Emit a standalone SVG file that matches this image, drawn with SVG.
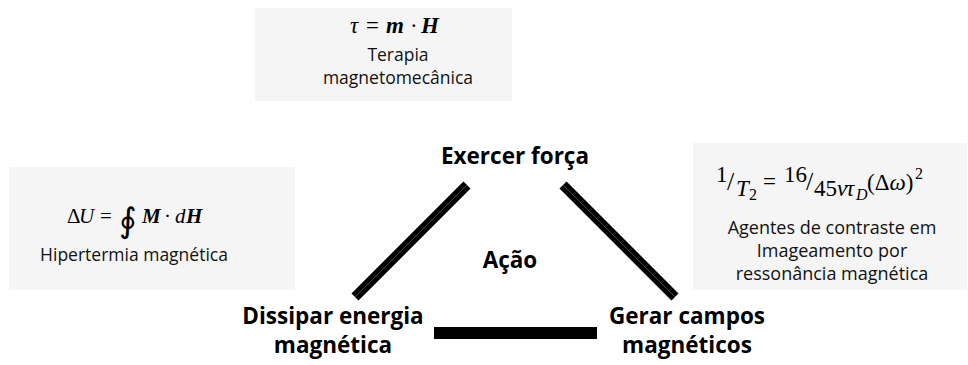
<svg xmlns="http://www.w3.org/2000/svg" width="968" height="365" viewBox="0 0 968 365">
<style>
.box{fill:#f5f5f5}
.lbl{font-family:"Open Sans","Liberation Sans",sans-serif;font-weight:bold;font-size:22.5px;fill:#000;text-anchor:middle}
.cap{font-family:"Open Sans","Liberation Sans",sans-serif;font-size:17.5px;fill:#111;text-anchor:middle}
.math{font-family:"Liberation Serif","DejaVu Serif",serif;font-size:22px;fill:#000}
.it{font-style:italic}
.bi{font-style:italic;font-weight:bold}
.sub{font-size:16px}
.bar{stroke:#000;stroke-width:10;stroke-linecap:butt;fill:none}
.barIn{stroke:#555;stroke-width:0.8;fill:none}
</style>
<g id="app-torque">
<rect class="box" x="255" y="8" width="257" height="93"/>
<text class="math" y="33" style="font-size:23px"><tspan x="350" class="it">τ</tspan><tspan x="366">=</tspan><tspan x="386" class="bi">m</tspan><tspan x="410">·</tspan><tspan x="421" class="bi">H</tspan></text>
<text class="cap" x="398" y="61">Terapia</text>
<text class="cap" x="398" y="84">magnetomecânica</text>
</g>
<g id="app-hyperthermia">
<rect class="box" x="9" y="167" width="286" height="123"/>
<text class="math" y="223" style="font-size:21px"><tspan x="67">Δ</tspan><tspan x="79" class="it">U</tspan><tspan x="100">=</tspan><tspan x="119" y="232" style="font-family:'DejaVu Serif',serif;font-size:34px">∮</tspan><tspan x="142" y="223" class="bi">M</tspan><tspan x="164">·</tspan><tspan x="175" class="it">d</tspan><tspan x="186" class="bi">H</tspan></text>
<text class="cap" x="134" y="261">Hipertermia magnética</text>
</g>
<g id="app-mri">
<rect class="box" x="693" y="143" width="274" height="147"/>
<text class="math" style="font-size:23px"><tspan x="716" y="182">1</tspan><tspan x="727" y="190" style="font-size:26px">/</tspan><tspan x="736" y="196" class="it">T</tspan><tspan x="749" y="200" class="sub">2</tspan><tspan x="763" y="189">=</tspan><tspan x="784" y="182">16</tspan><tspan x="806" y="190" style="font-size:26px">/</tspan><tspan x="814" y="196">45</tspan><tspan x="837" y="196" class="it">ν</tspan><tspan x="846" y="196" class="it">τ</tspan><tspan x="856" y="200" class="sub it">D</tspan><tspan x="867" y="190">(Δ</tspan><tspan class="it">ω</tspan><tspan>)</tspan><tspan x="915" y="179" class="sub">2</tspan></text>
<text class="cap" x="832" y="234" style="font-size:18px">Agentes de contraste em</text>
<text class="cap" x="832" y="257" style="font-size:18px">Imageamento por</text>
<text class="cap" x="832" y="280" style="font-size:18px">ressonância magnética</text>
</g>
<g id="node-force">
<text class="lbl" x="515" y="164">Exercer força</text>
</g>
<g id="node-action">
<text class="lbl" x="510" y="268">Ação</text>
</g>
<g id="node-dissipate">
<text class="lbl" x="333" y="324">Dissipar energia</text>
<text class="lbl" x="333" y="353">magnética</text>
</g>
<g id="node-generate">
<text class="lbl" x="687" y="324">Gerar campos</text>
<text class="lbl" x="687" y="353">magnéticos</text>
</g>
<g id="connectors">
<line class="bar" x1="467" y1="185" x2="355" y2="297"/>
<line class="barIn" x1="467" y1="185" x2="355" y2="297"/>
<line class="bar" x1="563" y1="185" x2="675" y2="297"/>
<line class="barIn" x1="563" y1="185" x2="675" y2="297"/>
<rect x="434" y="327" width="163" height="12" fill="#000"/>
</g>
</svg>
